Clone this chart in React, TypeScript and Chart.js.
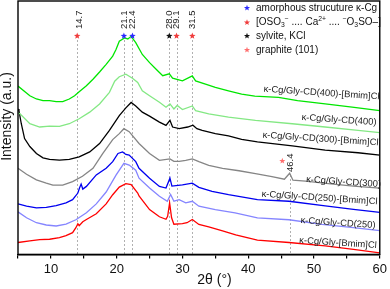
import React, { useEffect, useRef } from "react";
import { Chart, registerables } from "chart.js";
Chart.register(...registerables);

// ---- data (2θ in degrees, intensity in arbitrary units, curves offset) ----
const seriesNames = [
  "κ-Cg/Gly-CD(400)-[Bmim]Cl",
  "κ-Cg/Gly-CD(400)",
  "κ-Cg/Gly-CD(300)-[Bmim]Cl",
  "κ-Cg/Gly-CD(300)",
  "κ-Cg/Gly-CD(250)-[Bmim]Cl",
  "κ-Cg/Gly-CD(250)",
  "κ-Cg/Gly-[Bmim]Cl",
];
const seriesColors = ["#00e600", "#84e884", "#000000", "#858585", "#0000f0", "#8585ff", "#ff0000"];

const x400B = [5, 6.8, 7.8, 8.8, 9.8, 10.8, 11.8, 12.8, 13.6, 14.3, 15.4, 16.4, 17.4, 18.4, 19.4, 19.9, 20.4, 21.2, 21.7, 22.2, 22.9, 23.9, 25, 26, 27, 28, 28.5, 30, 31.5, 32, 33.5, 35, 37, 39, 41, 44.6, 47.5, 51.7, 55.8, 60];
const y400B = [170, 160.3, 157, 155.3, 155.3, 154.3, 154.3, 157, 160.3, 164.3, 170.3, 177, 184.3, 192, 200.3, 207, 215.3, 218.7, 217.7, 220.3, 214, 202, 193.7, 187, 180.5, 182.5, 178, 175.3, 180.3, 175.3, 172, 168.7, 165.3, 162, 160, 158.7, 155.3, 152, 148.7, 145.3];

const x400 = [5, 5.3, 6.8, 8.3, 9.8, 11.3, 12.8, 14.3, 15.9, 17.4, 18.9, 19.7, 20.4, 21.4, 22.4, 23.2, 23.9, 25, 26.5, 27.5, 28.1, 28.7, 29.2, 30, 31.5, 32, 34, 37, 41.1, 46.7, 51.7, 56.7, 60];
const y400 = [143, 142, 132, 128.7, 129.5, 129.3, 132, 137, 143.7, 152, 163.7, 175, 179.5, 182, 178, 173.7, 165.3, 160.3, 153.7, 148.7, 152, 147, 150.5, 146.3, 150, 145.3, 142, 138.7, 135.3, 132, 128.7, 125.3, 123];

const x300B = [5, 5.15, 5.5, 6, 6.8, 7.8, 8.8, 9.8, 11.3, 12.8, 14.3, 15.9, 17.4, 18.9, 20.4, 21.4, 22.2, 22.9, 23.9, 25, 26.5, 27.5, 28.1, 28.5, 29.5, 30.8, 31.6, 32.2, 33, 35, 37, 39, 41.4, 46.7, 51.7, 56.7, 60];
const y300B = [147, 145, 132, 117, 109, 102, 97.5, 96, 95.3, 96, 98.5, 103.5, 112, 125.3, 140.3, 148, 153.5, 150, 143.7, 139.7, 133.7, 130.3, 135.5, 128.7, 127, 128.7, 130.5, 127, 125.3, 122, 119.7, 116.3, 113.7, 109.7, 105.3, 102.7, 100.3];

const x300 = [5, 6.3, 7.8, 9.3, 10.3, 11.8, 13.3, 14.8, 16.4, 17.9, 19.4, 20.4, 21.1, 21.9, 23.4, 25, 26.5, 28.1, 28.7, 29.5, 30.5, 31.5, 32.5, 34, 36.1, 38.6, 41.1, 43.6, 45.5, 46.3, 46.8, 48.7, 52.2, 56, 60];
const y300 = [87, 81, 75.3, 72, 70, 70, 73.5, 79, 87, 102, 116, 122, 127, 124, 112, 102, 95, 96.5, 94, 94, 95, 96.5, 93.7, 90, 87, 84.5, 81.5, 78.5, 76, 82, 75, 74, 71.5, 69, 67];

const x250B = [5, 6.3, 7.8, 9.3, 10.8, 12.3, 13.3, 14.1, 14.35, 14.6, 14.85, 15.4, 16.9, 18.4, 19.4, 20.2, 20.9, 21.4, 21.9, 22.9, 23.4, 25, 26.5, 27.5, 28.1, 28.4, 30, 31.5, 32.5, 34.5, 37, 41.4, 46.2, 51.7, 56, 60];
const y250B = [51, 48.7, 47, 47.5, 49.3, 52, 55.3, 62, 67, 71, 66, 68.7, 80.3, 87, 93.7, 102, 103.5, 101, 100.3, 93.7, 87, 77, 68.7, 67, 77, 69, 70.3, 72, 67.7, 63.7, 60.3, 55.3, 53.7, 49, 45.5, 42.5];

const x250 = [5, 6.3, 7.8, 9.3, 10.8, 12.3, 13.8, 15.4, 16.9, 18.4, 19.9, 21.1, 21.9, 22.9, 23.4, 25, 26.5, 27.7, 28.2, 28.7, 29.5, 30.5, 31.5, 32.5, 35, 38, 41.4, 46.2, 51.2, 56, 60];
const y250 = [43, 37, 32, 29.7, 28.7, 30.5, 35, 42, 51, 63, 80, 92, 90.3, 85, 77, 67, 58.7, 53.7, 60.5, 53.7, 55.3, 52, 53.7, 48.7, 45.3, 42, 37, 35, 30.3, 27, 24];

const xB = [5, 6.8, 8.3, 9.8, 11.3, 12.3, 13.3, 13.8, 14.1, 14.3, 14.85, 15.4, 16.9, 18.4, 19.4, 20.4, 21.4, 22.2, 23.2, 23.4, 25, 26.5, 27.5, 27.75, 28.05, 28.35, 28.7, 30, 30.7, 31.5, 32.5, 34, 36.1, 38.1, 41.4, 46.2, 51.7, 56, 60];
const yB = [12, 13.7, 15, 15.3, 17, 19, 22, 27, 31, 29, 33, 35.3, 41, 51, 60.3, 68, 71.5, 70.5, 62, 59, 45.3, 38, 35.5, 38.5, 52, 37, 30.5, 31, 32, 35.3, 30.3, 27.7, 23.7, 19.7, 14.5, 12, 8.7, 5, 1.5];

const seriesX = [x400B, x400, x300B, x300, x250B, x250, xB];
const seriesY = [y400B, y400, y300B, y300, y250B, y250, yB];

// peak markers
const peakPos = [14.0, 21.1, 22.4, 28.0, 29.1, 31.5];
const peakLabels = ["14.7", "21.1", "22.4", "28.0", "29.1", "31.5"];
const peakStarColors = ["#f03c3c", "#2a2aff", "#2a2aff", "#111111", "#f03c3c", "#f03c3c"];
const extraPeakPos = 46.4;
const extraPeakLabel = "46.4";

const legendStarColors = ["#2a2aff", "#f03c3c", "#111111", "#ff6e6e"];

const xTicks = [10, 20, 30, 40, 50, 60];

const FONT = '"Liberation Sans", Arial, Helvetica, sans-serif';

function drawStar(ctx: CanvasRenderingContext2D, x: number, y: number, r: number, color: string) {
  ctx.beginPath();
  for (let i = 0; i < 10; i++) {
    const ang = -Math.PI / 2 + (i * Math.PI) / 5;
    const rr = i % 2 ? r * 0.42 : r;
    const px = x + rr * Math.cos(ang);
    const py = y + rr * Math.sin(ang);
    if (i === 0) ctx.moveTo(px, py);
    else ctx.lineTo(px, py);
  }
  ctx.closePath();
  ctx.fillStyle = color;
  ctx.fill();
}

type Part = { t: string; k?: "sup" | "sub" };
function drawRich(ctx: CanvasRenderingContext2D, x: number, y: number, parts: Part[], size: number) {
  let cx = x;
  for (const p of parts) {
    const s = p.k ? size * 0.68 : size;
    ctx.font = `${s}px ${FONT}`;
    const dy = p.k === "sup" ? -size * 0.36 : p.k === "sub" ? size * 0.28 : 0;
    ctx.fillText(p.t, cx, y + dy);
    cx += ctx.measureText(p.t).width;
  }
}

const legendRows: Part[][] = [
  [{ t: "amorphous strucuture κ-Cg" }],
  [
    { t: "[OSO" }, { t: "3", k: "sub" }, { t: "−", k: "sup" }, { t: " .... Ca" }, { t: "2+", k: "sup" },
    { t: " .... " }, { t: "−", k: "sup" }, { t: "O" }, { t: "3", k: "sub" }, { t: "SO–]" },
  ],
  [{ t: "sylvite, KCl" }],
  [{ t: "graphite (101)" }],
];

// label placement (pixel centres)
const labelPos = [
  [321.5, 93], [339, 120], [320.5, 139], [343.5, 182], [319.5, 198], [338, 223], [338, 243],
];

const annotPlugin = {
  id: "annot",
  beforeDatasetsDraw(chart: any) {
    const ctx: CanvasRenderingContext2D = chart.ctx;
    const xs = chart.scales.x;
    const a = chart.chartArea;
    ctx.save();
    ctx.setLineDash([2, 2]);
    ctx.strokeStyle = "#a8a8a8";
    ctx.lineWidth = 0.9;
    peakPos.forEach((p) => {
      const x = Math.round(xs.getPixelForValue(p)) + 0.5;
      ctx.beginPath();
      ctx.moveTo(x, a.top + 39);
      ctx.lineTo(x, a.bottom);
      ctx.stroke();
    });
    const xe = Math.round(xs.getPixelForValue(extraPeakPos)) + 0.5;
    ctx.beginPath();
    ctx.moveTo(xe, a.top + 174);
    ctx.lineTo(xe, a.bottom);
    ctx.stroke();
    ctx.restore();
  },
  afterDatasetsDraw(chart: any) {
    const ctx: CanvasRenderingContext2D = chart.ctx;
    const xs = chart.scales.x;
    const a = chart.chartArea;
    ctx.save();
    // frame
    ctx.strokeStyle = "#000";
    ctx.lineWidth = 1.4;
    ctx.strokeRect(a.left, a.top, a.right - a.left, a.bottom - a.top);

    // peak stars + labels
    peakPos.forEach((p, i) => {
      const x = xs.getPixelForValue(p);
      drawStar(ctx, x, a.top + 35, 3.4, peakStarColors[i]);
      ctx.save();
      ctx.translate(x + (i === 0 ? 2.5 : 0), a.top + 28);
      ctx.rotate(-Math.PI / 2);
      ctx.font = `9.5px ${FONT}`;
      ctx.fillStyle = "#222";
      ctx.textAlign = "left";
      ctx.textBaseline = "middle";
      ctx.fillText(peakLabels[i], 0, 0);
      ctx.restore();
    });
    const xe = xs.getPixelForValue(extraPeakPos);
    drawStar(ctx, xe - 8, a.top + 160, 3.2, "#ff6e6e");
    ctx.save();
    ctx.translate(xe + 0.5, a.top + 171);
    ctx.rotate(-Math.PI / 2);
    ctx.font = `9.5px ${FONT}`;
    ctx.fillStyle = "#222";
    ctx.textAlign = "left";
    ctx.textBaseline = "middle";
    ctx.fillText(extraPeakLabel, 0, 0);
    ctx.restore();

    // legend
    const legY = [8, 22.5, 36, 50];
    ctx.textAlign = "left";
    ctx.textBaseline = "middle";
    legendRows.forEach((row, i) => {
      drawStar(ctx, 247, legY[i], 3.2, legendStarColors[i]);
      ctx.fillStyle = "#111";
      drawRich(ctx, 256, legY[i], row, 10);
    });

    // series labels
    ctx.fillStyle = "#222";
    seriesNames.forEach((n, i) => {
      ctx.save();
      ctx.translate(labelPos[i][0], labelPos[i][1]);
      ctx.rotate((3.8 * Math.PI) / 180);
      ctx.font = `9.4px ${FONT}`;
      ctx.textAlign = "center";
      ctx.textBaseline = "middle";
      ctx.fillText(n, 0, 0);
      ctx.restore();
    });

    // axis titles
    ctx.fillStyle = "#111";
    ctx.font = `14px ${FONT}`;
    ctx.textAlign = "center";
    ctx.textBaseline = "middle";
    ctx.fillText("2θ (°)", 214.5, 280);
    ctx.save();
    ctx.translate(7.5, 116.5);
    ctx.rotate(-Math.PI / 2);
    ctx.fillText("Intensity (a.u.)", 0, 0);
    ctx.restore();
    ctx.restore();
  },
};

export default function App() {
  const ref = useRef<HTMLCanvasElement | null>(null);
  useEffect(() => {
    if (!ref.current) return;
    const datasets = seriesX.map((xs, i) => ({
      label: seriesNames[i],
      data: xs.map((x, j) => ({ x, y: seriesY[i][j] })),
      borderColor: seriesColors[i],
      borderWidth: 1.3,
      pointRadius: 0,
      tension: 0,
      fill: false,
    }));
    const chart = new Chart(ref.current, {
      type: "line",
      data: { datasets },
      options: {
        animation: false,
        responsive: false,
        devicePixelRatio: 1,
        layout: { padding: { left: 18, right: 8, top: 1, bottom: 9 } },
        plugins: { legend: { display: false }, tooltip: { enabled: false } },
        scales: {
          x: {
            type: "linear",
            min: 5,
            max: 60,
            ticks: {
              stepSize: 5,
              autoSkip: false,
              maxRotation: 0,
              padding: 3,
              color: "#111",
              font: { size: 13, family: FONT },
              callback: (v: any) => (xTicks.includes(Number(v)) ? String(v) : ""),
            },
            grid: { display: true, drawOnChartArea: false, drawTicks: true, tickLength: 4, color: "#000", lineWidth: 1.2 },
            border: { display: true, color: "#000", width: 1.4 },
          },
          y: { display: false, min: 0, max: 256 },
        },
      },
      plugins: [annotPlugin],
    });
    return () => chart.destroy();
  }, []);
  return (
    <div style={{ position: "absolute", left: 0, top: 0, width: 390, height: 289, background: "#fff" }}>
      <canvas ref={ref} width={390} height={289} style={{ width: 390, height: 289 }} />
    </div>
  );
}
